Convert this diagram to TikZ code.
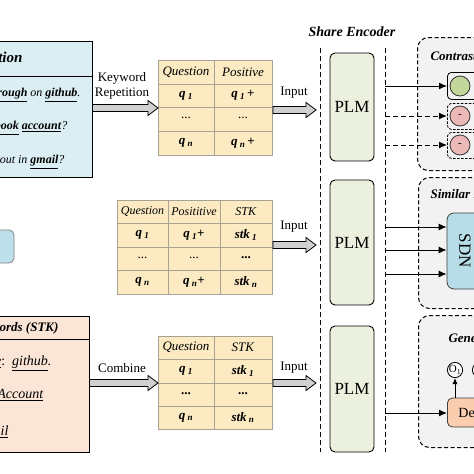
\documentclass[tikz,border=0pt]{standalone}
\usepackage{fontspec}
\usepackage{graphicx}
\setmainfont{Liberation Serif}
\usetikzlibrary{arrows.meta,calc}
\definecolor{qblue}{HTML}{DAEEF3}
\definecolor{stkpeach}{HTML}{FBE5D6}
\definecolor{tyellow}{HTML}{FCEAC2}
\definecolor{tgray}{HTML}{A8A294}
\definecolor{plmgreen}{HTML}{EBF1DE}
\definecolor{panelgray}{HTML}{F2F2F2}
\definecolor{cgreen}{HTML}{C3D69B}
\definecolor{cred}{HTML}{EDB8B8}
\definecolor{sdnblue}{HTML}{B7DEE8}
\definecolor{decorange}{HTML}{F9CDAE}
\definecolor{lbblue}{HTML}{BDE0EC}
\definecolor{agray}{HTML}{D0D0D0}
\newcommand\fsz[1]{\fontsize{#1}{#1}\selectfont}
\newcommand\bi[1]{\textbf{\textit{#1}}}
\newcommand\ubi[1]{\underline{\textbf{\textit{#1}}}}
\newcommand\ui[1]{\underline{\textit{#1}}}
\newcommand\qq[1]{\textbf{\textit{q\,\textsubscript{#1}}}}
\newcommand\sk[1]{\textbf{\textit{stk\,\textsubscript{#1}}}}
\newcommand\barrow[2]{\draw[barr] let \p1=(#1), \p2=(#2) in
  (\x1,\y2+3.5pt) -- (\x2-10pt,\y2+3.5pt) -- (\x2-10pt,\y2+7.5pt) -- (\x2,\y2)
  -- (\x2-10pt,\y2-7.5pt) -- (\x2-10pt,\y2-3.5pt) -- (\x1,\y2-3.5pt) -- cycle;}
\begin{document}
\begin{tikzpicture}[x=1pt,y=-1pt,
  every node/.style={font=\fsz{12}},
  leftbox/.style={draw=black, line width=0.9pt, inner sep=0pt},
  tbl/.style={draw=tgray, fill=tyellow, line width=0.9pt, inner sep=0pt},
  tgrid/.style={draw=tgray, line width=0.9pt},
  ct/.style={font=\fsz{13}},
  ct2/.style={font=\fsz{12}},
  plm/.style={draw=black, fill=plmgreen, rounded corners=5pt, line width=0.9pt, minimum width=44pt, inner sep=0pt, font=\fsz{17}},
  panel/.style={draw=black, fill=panelgray, rounded corners=11pt, line width=1pt, dash pattern=on 4pt off 2.5pt, inner sep=0pt},
  arr/.style={-{Latex[length=8pt,width=7pt]}, line width=1pt},
  darr/.style={arr, dash pattern=on 5pt off 3pt},
  vline/.style={dash pattern=on 5pt off 3pt, line width=1pt},
  barr/.style={draw=black, fill=agray, line width=0.8pt},
  lab/.style={font=\fsz{13}},
  ptitle/.style={anchor=west, font=\fsz{13}},
  circ/.style={circle, draw=black!80, line width=0.8pt, minimum size=20pt, inner sep=0pt},
  crect/.style={draw=black, rounded corners=4pt, line width=0.8pt, inner sep=0pt, minimum width=60pt},
]
\useasboundingbox (0,0) rectangle (474,474);
\fill[white] (0,0) rectangle (474,474);

% ---------- Question box ----------
\node[leftbox, fill=qblue, minimum width=152pt, minimum height=136pt] (q) at (16,109) {};
\draw[line width=0.9pt] (-60,76) -- (q.east |- 0,76);
\node[anchor=east, font=\fsz{15}] (qt) at (26,59) {\bi{Question}};
\node[anchor=east] (q1) at (84,95) {\textit{How to} \ubi{walkthrough} \textit{on} \ubi{github}\textit{.}};
\node[anchor=east] (q2) at (71,128) {\textit{How to delete} \ubi{facebook} \ubi{account}\textit{?}};
\node[anchor=east] (q3) at (68,162) {\textit{How to sign myself out in} \ubi{gmail}\textit{?}};

% ---------- left blue node ----------
\node[draw=gray, fill=lbblue, rounded corners=5pt, line width=0.8pt, minimum width=44pt, minimum height=33pt] (lb) at (-8,246.5) {};

% ---------- STK box ----------
\node[leftbox, fill=stkpeach, minimum width=149pt, minimum height=136pt] (stk) at (14.5,384) {};
\draw[line width=0.9pt] (-60,339) -- (stk.east |- 0,339);
\node[anchor=east, font=\fsz{13}] (st) at (62,328) {\bi{Keywords (STK)}};
\node[anchor=east, font=\fsz{14}] (s1) at (55,363) {\ui{Code}:~~\ui{github}\textit{.}};
\node[anchor=east, font=\fsz{14}] (s2) at (47,395) {\ui{Account}};
\node[anchor=east, font=\fsz{14}] (s3) at (12,432) {\ui{Gmail}};

% ---------- Table 1 ----------
\node[tbl, anchor=north west, minimum width=114pt, minimum height=95pt] (t1) at (158,60) {};
\draw[tgrid] (214,60) -- (214,155);
\foreach \yy in {84,107,131} \draw[tgrid] (158,\yy) -- (272,\yy);
\node[ct] (t1a) at (186,72) {\textit{Question}};
\node[ct] (t1b) at (243,72) {\textit{Positive}};
\node[ct] (t1c) at (186,95.5) {\qq{1}};
\node[ct] (t1d) at (243,95.5) {\qq{1}\,\textbf{+}};
\node[ct] (t1e) at (186,118) {...};
\node[ct] (t1f) at (243,118) {...};
\node[ct] (t1g) at (186,143) {\qq{n}};
\node[ct] (t1h) at (243,143) {\qq{n}\,\textbf{+}};

% ---------- Table 2 ----------
\node[tbl, anchor=north west, minimum width=155pt, minimum height=94pt] (t2) at (117,200) {};
\draw[tgrid] (168,200) -- (168,294);
\draw[tgrid] (220,200) -- (220,294);
\foreach \yy in {223,247,270} \draw[tgrid] (117,\yy) -- (272,\yy);
\node[ct2] (t2a) at (142.5,211.5) {\textit{Question}};
\node[ct2] (t2b) at (194,211.5) {\textit{Posititive}};
\node[ct2] (t2c) at (246,211.5) {\textit{STK}};
\node[ct] (t2d) at (142.5,235) {\qq{1}};
\node[ct] (t2e) at (194,235) {\qq{1}\textbf{+}};
\node[ct] (t2f) at (246,235) {\sk{1}};
\node[ct] (t2g) at (142.5,257.5) {...};
\node[ct] (t2h) at (194,257.5) {...};
\node[ct] (t2i) at (246,257.5) {\textbf{...}};
\node[ct] (t2j) at (142.5,282) {\qq{n}};
\node[ct] (t2k) at (194,282) {\qq{n}\textbf{+}};
\node[ct] (t2l) at (246,282) {\sk{n}};

% ---------- Table 3 ----------
\node[tbl, anchor=north west, minimum width=114pt, minimum height=93pt] (t3) at (158,336) {};
\draw[tgrid] (214,336) -- (214,429);
\foreach \yy in {359,383,406} \draw[tgrid] (158,\yy) -- (272,\yy);
\node[ct] (t3a) at (186,347.5) {\textit{Question}};
\node[ct] (t3b) at (243,347.5) {\textit{STK}};
\node[ct] (t3c) at (186,371) {\qq{1}};
\node[ct] (t3d) at (243,371) {\sk{1}};
\node[ct] (t3e) at (186,393.5) {\textbf{...}};
\node[ct] (t3f) at (243,393.5) {\textbf{...}};
\node[ct] (t3g) at (186,417.5) {\qq{n}};
\node[ct] (t3h) at (243,417.5) {\sk{n}};

% ---------- block arrows left ----------
\node[lab, align=center, font=\fontsize{13}{15}\selectfont] (kr) at (122,85.5) {Keyword\\Repetition};
\barrow{q.east}{t1.west}
\node[lab] (cb) at (122,368) {Combine};
\barrow{stk.east}{t3.west}

% ---------- Input arrows ----------
\coordinate (i1) at (316,110);
\coordinate (i2) at (316,245);
\coordinate (i3) at (316,383);
\node[lab] (in1) at (294,93) {Input};
\node[lab] (in2) at (294,227) {Input};
\node[lab] (in3) at (294,368) {Input};
\barrow{t1.east}{i1}
\barrow{t2.east}{i2}
\barrow{t3.east}{i3}

% ---------- Share encoder ----------
\node[font=\fsz{14}] (se) at (352,32) {\bi{Share Encoder}};
\coordinate (va) at (320,48);
\coordinate (vb) at (320,452);
\coordinate (wa) at (385,48);
\coordinate (wb) at (385,452);
\draw[vline] (va) -- (vb);
\draw[vline] (wa) -- (wb);
\node[plm, minimum height=108pt] (plm1) at (352,107) {PLM};
\node[plm, minimum height=125pt] (plm2) at (352,242.5) {PLM};
\node[plm, minimum height=126pt] (plm3) at (352,389) {PLM};

% ---------- Panels ----------
\node[panel, anchor=north west, minimum width=110pt, minimum height=133pt] (pc) at (417,37) {};
\node[panel, anchor=north west, minimum width=110pt, minimum height=131pt] (ps) at (418,177) {};
\node[panel, anchor=north west, minimum width=110pt, minimum height=132pt] (pg) at (418,315) {};
\node[ptitle] (pct) at (427,57) {\bi{Contrastive Learning}};
\node[ptitle] (pst) at (427,195) {\bi{Similar Learning}};
\node[ptitle] (pgt) at (445,339) {\bi{Generation Learning}};

% contrastive
\node[crect, anchor=north west, minimum height=27pt, fill=panelgray] (r1) at (447,72) {};
\node[crect, anchor=north west, minimum height=26pt, fill=panelgray, dash pattern=on 2.5pt off 1.5pt] (r2) at (447,103) {};
\node[crect, anchor=north west, minimum height=26pt, fill=panelgray, dash pattern=on 2.5pt off 1.5pt] (r3) at (447,132) {};
\node[circ, fill=cgreen] (c1) at (460,86) {};
\node[circ, fill=cred, font=\fsz{11}] (c2) at (460,116) {-};
\node[circ, fill=cred, font=\fsz{11}] (c3) at (460,145) {-};
\coordinate (e1) at (385,86);
\coordinate (e2) at (385,116);
\coordinate (e3) at (385,145);
\draw[arr] (e1) -- (e1 -| r1.west);
\draw[darr] (e2) -- (e2 -| r2.west);
\draw[darr] (e3) -- (e3 -| r3.west);

% similar
\node[draw=black!75, fill=sdnblue, rounded corners=7pt, line width=0.8pt, minimum width=36pt, minimum height=76pt, inner sep=0pt, font=\fsz{17}] (sdn) at (465,251) {\rotatebox{-90}{SDN}};
\coordinate (e4) at (385,227);
\coordinate (e5) at (385,250);
\coordinate (e6) at (385,274);
\draw[arr] (e4) -- (e4 -| sdn.west);
\draw[arr] (e5) -- (e5 -| sdn.west);
\draw[arr] (e6) -- (e6 -| sdn.west);

% generation
\node[draw=black!75, fill=decorange, rounded corners=5pt, line width=0.8pt, anchor=west, minimum height=29pt, inner xsep=11pt, inner ysep=0pt, font=\fsz{14}] (dec) at (447,412.5) {Decoder};
\node[circle, draw=black, fill=white, line width=0.8pt, minimum size=15pt, inner sep=0pt, font=\fsz{11}] (o1) at (455,370) {O\textsubscript{1}};
\node[circle, draw=black, fill=white, line width=0.8pt, minimum size=15pt, inner sep=0pt, font=\fsz{11}] (o2) at (480,370) {O\textsubscript{2}};
\draw[-{Latex[length=6pt,width=5pt]}, line width=1pt] (dec.north -| o1) -- (o1.south);
\coordinate (e7) at (385,413);
\draw[arr] (e7) -- (e7 -| dec.west);
\end{tikzpicture}
\end{document}
